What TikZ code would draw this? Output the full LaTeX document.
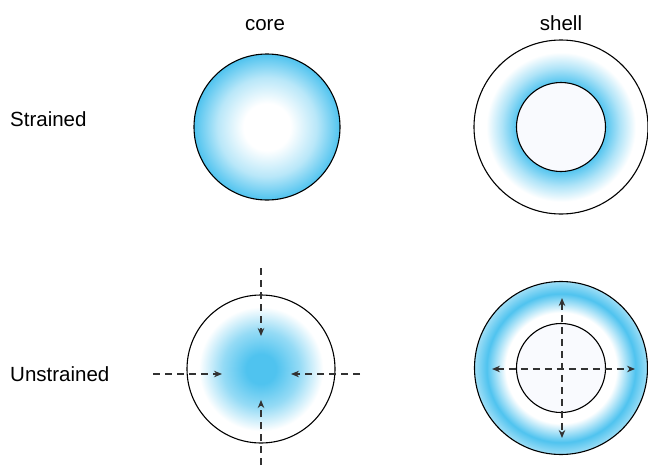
\documentclass[tikz,border=0pt]{standalone}
\usepackage{fontspec}
\setmainfont{Liberation Sans}
\usetikzlibrary{arrows.meta, calc}
\definecolor{strainblue}{RGB}{79,195,239}
\definecolor{holefill}{RGB}{249,250,254}
\definecolor{dashgray}{RGB}{50,50,50}
% radial profiles (25bp = circle radius)
\pgfdeclareradialshading{corestrained}{\pgfpoint{0bp}{0bp}}{color(0bp)=(white); color(8bp)=(white); color(17bp)=(strainblue!40); color(25bp)=(strainblue); color(50bp)=(strainblue)}
\pgfdeclareradialshading{shellstrained}{\pgfpoint{0bp}{0bp}}{color(0bp)=(strainblue); color(12.5bp)=(strainblue); color(17bp)=(strainblue!45); color(21.5bp)=(white); color(50bp)=(white)}
\pgfdeclareradialshading{coreunstrained}{\pgfpoint{0bp}{0bp}}{color(0bp)=(strainblue); color(5bp)=(strainblue); color(13bp)=(strainblue!60); color(21bp)=(white); color(50bp)=(white)}
\pgfdeclareradialshading{shellunstrained}{\pgfpoint{0bp}{0bp}}{color(0bp)=(white); color(16bp)=(white); color(21.5bp)=(strainblue); color(25bp)=(strainblue!55); color(50bp)=(strainblue!55)}
\begin{document}
\begin{tikzpicture}[x=1pt, y=-1pt,
    ball/.style={circle, draw, line width=1.1pt, inner sep=0pt},
    hole/.style={ball, fill=holefill},
    dashln/.style={dashgray, line width=1.2pt, dash pattern=on 7pt off 5pt},
    tip/.style={-{Stealth[length=8pt, width=6.5pt]}},
    bitip/.style={{Stealth[length=8pt, width=6.5pt]}-{Stealth[length=8pt, width=6.5pt]}},
    lbl/.style={font=\fontsize{20.5}{24}\selectfont, inner sep=0pt}
  ]
  \useasboundingbox (0,0) rectangle (648,466);
  % Column and row labels
  \node[lbl, anchor=base] (coreT) at (265,30) {core};
  \node[lbl, anchor=base] (shellT) at (561,30) {shell};
  \node[lbl, anchor=base west] (strT) at (10,126) {Strained};
  \node[lbl, anchor=base west] (unstrT) at (10,381) {Unstrained};
  % Strained row
  \node[ball, minimum size=146pt, shading=corestrained] (coreS) at (267,127) {};
  \node[ball, minimum size=174pt, shading=shellstrained] (shellS) at (561,127) {};
  \node[hole, minimum size=89pt] (shellSin) at (shellS.center) {};
  % Unstrained row
  \node[ball, minimum size=148pt, shading=coreunstrained] (coreU) at (261,369) {};
  \node[ball, minimum size=173pt, shading=shellunstrained] (shellU) at (561,368) {};
  \node[hole, minimum size=89pt] (shellUin) at (shellU.center) {};
  % Core: inward arrows
  \coordinate (cuN) at (261,268); \coordinate (cuNtip) at (261,336);
  \coordinate (cuS) at (261,465); \coordinate (cuStip) at (261,400);
  \coordinate (cuW) at (153,374); \coordinate (cuWtip) at (222,374);
  \coordinate (cuE) at (360,374); \coordinate (cuEtip) at (291,374);
  \foreach \a/\b in {cuN/cuNtip, cuS/cuStip, cuW/cuWtip, cuE/cuEtip}
    \draw[dashln, tip] (\a) -- (\b);
  % Shell: outward arrows
  \coordinate (suW) at (492,369); \coordinate (suE) at (635,369);
  \coordinate (suN) at (562,298); \coordinate (suS) at (562,438);
  \draw[dashln, bitip] (suW) -- (suE);
  \draw[dashln, bitip] (suN) -- (suS);
\end{tikzpicture}
\end{document}
